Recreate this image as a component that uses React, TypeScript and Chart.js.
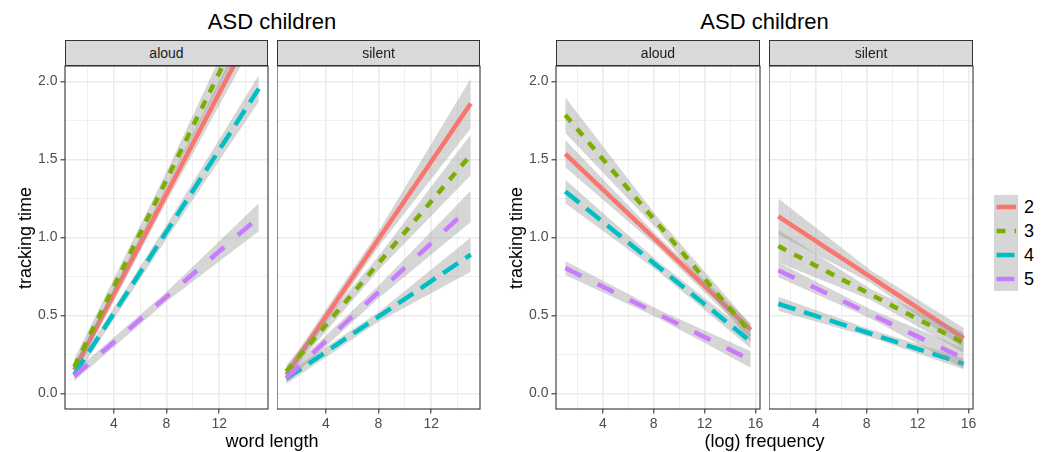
import React, { useEffect, useRef } from "react";
import { Chart, registerables } from "chart.js";

Chart.register(...registerables);

const FONT = "'Liberation Sans', Arial, Helvetica, sans-serif";
const RIBBON = "rgba(153,153,153,0.4)";

// ---- legend groups ----
const groups = ["2", "3", "4", "5"];
const groupColors = ["#F8766D", "#7CAE00", "#00BFC4", "#C77CFF"];
const groupDashes: number[][] = [[], [9, 9], [18, 9], [18, 18]];

// ---- axis ticks ----
const yTicks = [0, 0.25, 0.5, 0.75, 1, 1.25, 1.5, 1.75, 2];
const yLabelled = [0, 0.5, 1, 1.5, 2];
const wordTicks = [2, 4, 6, 8, 10, 12, 14];
const wordLabelled = [4, 8, 12];
const freqTicks = [2, 4, 6, 8, 10, 12, 14, 16];
const freqLabelled = [4, 8, 12, 16];

// ---- x positions of fitted lines and bands ----
const wordLineX = [1, 15];
const wordBandX = [1, 8, 15];
const freqLineX = [1.04, 15.63];
const freqBandX = [1.04, 8.3, 15.63];

// ---- word length, aloud (groups 2,3,4,5) ----
const wordAloudFit = [[0.15, 2.41], [0.17, 2.57], [0.12, 1.955], [0.11, 1.13]];
const wordAloudLower = [[0.11, 1.23, 2.31], [0.12, 1.32, 2.45], [0.09, 0.99, 1.87], [0.08, 0.59, 1.04]];
const wordAloudUpper = [[0.19, 1.33, 2.51], [0.22, 1.42, 2.69], [0.15, 1.08, 2.04], [0.14, 0.65, 1.22]];

// ---- word length, silent ----
const wordSilentFit = [[0.12, 1.86], [0.14, 1.53], [0.095, 0.89], [0.1, 1.2]];
const wordSilentLower = [[0.08, 0.94, 1.7], [0.1, 0.79, 1.4], [0.06, 0.46, 0.78], [0.07, 0.61, 1.1]];
const wordSilentUpper = [[0.16, 1.04, 2.02], [0.18, 0.88, 1.66], [0.13, 0.52, 1.0], [0.13, 0.69, 1.3]];

// ---- (log) frequency, aloud ----
const freqAloudFit = [[1.537, 0.408], [1.786, 0.387], [1.295, 0.333], [0.804, 0.215]];
const freqAloudLower = [[1.45, 0.94, 0.36], [1.67, 1.05, 0.33], [1.22, 0.785, 0.29], [0.76, 0.485, 0.165]];
const freqAloudUpper = [[1.625, 1.01, 0.45], [1.9, 1.13, 0.44], [1.37, 0.85, 0.38], [0.85, 0.54, 0.27]];

// ---- (log) frequency, silent ----
const freqSilentFit = [[1.135, 0.355], [0.945, 0.323], [0.575, 0.19], [0.79, 0.224]];
const freqSilentLower = [[1.02, 0.71, 0.29], [0.84, 0.6, 0.26], [0.53, 0.36, 0.155], [0.745, 0.48, 0.16]];
const freqSilentUpper = [[1.25, 0.79, 0.42], [1.05, 0.67, 0.39], [0.62, 0.41, 0.225], [0.84, 0.54, 0.29]];

const TOP = 54;
const PAD_TOP = 12;
const AREA_BOTTOM = 409;
const CANVAS_H = 398;
const PAD_R = 14;

const panelBorder = {
  id: "panelBorder",
  afterDraw(chart: any) {
    const { ctx, chartArea: a } = chart;
    ctx.save();
    ctx.strokeStyle = "#333333";
    ctx.lineWidth = 1.1;
    ctx.strokeRect(a.left, a.top, a.right - a.left, a.bottom - a.top);
    ctx.restore();
  },
};

type PanelProps = {
  canvasLeft: number;
  areaLeft: number;
  areaRight: number;
  showY: boolean;
  xMin: number;
  xMax: number;
  xTickValues: number[];
  xLabelled: number[];
  lineX: number[];
  bandX: number[];
  fit: number[][];
  lower: number[][];
  upper: number[][];
};

function Panel(p: PanelProps) {
  const ref = useRef<HTMLCanvasElement>(null);
  useEffect(() => {
    const yw = p.areaLeft - p.canvasLeft;
    const xh = CANVAS_H - (AREA_BOTTOM - TOP);
    const datasets: any[] = [];
    let order = 100;
    groups.forEach((g, i) => {
      datasets.push({
        label: "upper " + g,
        data: p.bandX.map((x, k) => ({ x, y: p.upper[i][k] })),
        borderColor: "transparent",
        borderWidth: 0,
        backgroundColor: RIBBON,
        pointRadius: 0,
        fill: "+1",
        order: order--,
        clip: 0,
      });
      datasets.push({
        label: "lower " + g,
        data: p.bandX.map((x, k) => ({ x, y: p.lower[i][k] })),
        borderColor: "transparent",
        borderWidth: 0,
        pointRadius: 0,
        fill: false,
        order: order--,
        clip: 0,
      });
      datasets.push({
        label: g,
        data: p.lineX.map((x, k) => ({ x, y: p.fit[i][k] })),
        borderColor: groupColors[i],
        borderWidth: 4.5,
        borderDash: groupDashes[i],
        borderCapStyle: "butt",
        pointRadius: 0,
        fill: false,
        order: order--,
        clip: 0,
      });
    });

    const isIn = (arr: number[], v: any) => arr.some((a) => Math.abs(a - v) < 1e-9);

    const chart = new Chart(ref.current as HTMLCanvasElement, {
      type: "line",
      data: { datasets },
      plugins: [panelBorder],
      options: {
        responsive: false,
        animation: false,
        events: [],
        layout: { padding: { top: PAD_TOP, right: PAD_R, left: 0, bottom: 0 } },
        plugins: {
          legend: { display: false },
          tooltip: { enabled: false },
        },
        scales: {
          x: {
            type: "linear",
            min: p.xMin,
            max: p.xMax,
            afterBuildTicks: (s: any) => {
              s.ticks = p.xTickValues.map((v) => ({ value: v }));
            },
            afterFit: (s: any) => {
              s.height = xh;
            },
            border: { display: false },
            grid: {
              color: "#EBEBEB",
              lineWidth: (c: any) => (c.tick && isIn(p.xLabelled, c.tick.value) ? 1.6 : 0.8),
              drawTicks: true,
              tickLength: 4.5,
              tickWidth: 1.1,
              tickColor: (c: any) => (c.tick && isIn(p.xLabelled, c.tick.value) ? "#333333" : "rgba(0,0,0,0)"),
            },
            ticks: {
              autoSkip: false,
              maxRotation: 0,
              padding: 2,
              color: "#4D4D4D",
              font: { size: 14, family: FONT },
              callback: (v: any) => (isIn(p.xLabelled, v) ? String(v) : ""),
            },
          },
          y: {
            type: "linear",
            min: -0.1,
            max: 2.1,
            afterBuildTicks: (s: any) => {
              s.ticks = yTicks.map((v) => ({ value: v }));
            },
            afterFit: (s: any) => {
              s.width = yw;
            },
            border: { display: false },
            grid: {
              color: "#EBEBEB",
              lineWidth: (c: any) => (c.tick && isIn(yLabelled, c.tick.value) ? 1.6 : 0.8),
              drawTicks: p.showY,
              tickLength: 4.5,
              tickWidth: 1.1,
              tickColor: (c: any) => (c.tick && isIn(yLabelled, c.tick.value) ? "#333333" : "rgba(0,0,0,0)"),
            },
            ticks: {
              display: p.showY,
              autoSkip: false,
              padding: 3,
              color: "#4D4D4D",
              font: { size: 14, family: FONT },
              callback: (v: any) => (isIn(yLabelled, v) ? Number(v).toFixed(1) : ""),
            },
          },
        },
      } as any,
    });
    return () => chart.destroy();
  }, []);
  return (
    <canvas
      ref={ref}
      width={p.areaRight + PAD_R - p.canvasLeft}
      height={CANVAS_H}
      style={{ position: "absolute", left: p.canvasLeft, top: TOP }}
    />
  );
}

function Text(props: { x: number; y: number; size: number; color?: string; rotate?: boolean; children: any }) {
  return (
    <div
      style={{
        position: "absolute",
        left: props.x,
        top: props.y,
        transform: "translate(-50%,-50%)" + (props.rotate ? " rotate(-90deg)" : ""),
        fontFamily: FONT,
        fontSize: props.size,
        color: props.color || "#000000",
        lineHeight: 1,
        whiteSpace: "nowrap",
      }}
    >
      {props.children}
    </div>
  );
}

function Strip(props: { left: number; right: number; label: string }) {
  return (
    <div
      style={{
        position: "absolute",
        left: props.left,
        top: 40,
        width: props.right - props.left,
        height: 26,
        boxSizing: "border-box",
        background: "#D9D9D9",
        border: "1.1px solid #333333",
        fontFamily: FONT,
        fontSize: 14,
        color: "#1A1A1A",
        display: "flex",
        alignItems: "center",
        justifyContent: "center",
      }}
    >
      {props.label}
    </div>
  );
}

function Legend() {
  const top = 195;
  const keyH = 24;
  return (
    <>
      <svg
        width={24}
        height={keyH * groups.length}
        style={{ position: "absolute", left: 994, top }}
      >
        {groups.map((g, i) => (
          <g key={g}>
            <rect x={0} y={i * keyH} width={24} height={keyH} fill={RIBBON} />
            <line
              x1={2.5}
              x2={22}
              y1={i * keyH + keyH / 2}
              y2={i * keyH + keyH / 2}
              stroke={groupColors[i]}
              strokeWidth={4.5}
              strokeDasharray={groupDashes[i].length ? groupDashes[i].join(" ") : undefined}
            />
          </g>
        ))}
      </svg>
      {groups.map((g, i) => (
        <div
          key={g}
          style={{
            position: "absolute",
            left: 1024,
            top: top + i * keyH + keyH / 2,
            transform: "translateY(-50%)",
            fontFamily: FONT,
            fontSize: 18,
            lineHeight: 1,
            color: "#000000",
          }}
        >
          {g}
        </div>
      ))}
    </>
  );
}

export default function App() {
  return (
    <div
      style={{
        position: "fixed",
        left: 0,
        top: 0,
        width: 1051,
        height: 452,
        background: "#FFFFFF",
        overflow: "hidden",
      }}
    >
      <Panel
        canvasLeft={0}
        areaLeft={65}
        areaRight={268}
        showY={true}
        xMin={0.3}
        xMax={15.7}
        xTickValues={wordTicks}
        xLabelled={wordLabelled}
        lineX={wordLineX}
        bandX={wordBandX}
        fit={wordAloudFit}
        lower={wordAloudLower}
        upper={wordAloudUpper}
      />
      <Panel
        canvasLeft={277}
        areaLeft={277}
        areaRight={480}
        showY={false}
        xMin={0.3}
        xMax={15.7}
        xTickValues={wordTicks}
        xLabelled={wordLabelled}
        lineX={wordLineX}
        bandX={wordBandX}
        fit={wordSilentFit}
        lower={wordSilentLower}
        upper={wordSilentUpper}
      />
      <Panel
        canvasLeft={490}
        areaLeft={556}
        areaRight={760}
        showY={true}
        xMin={0.31}
        xMax={16.36}
        xTickValues={freqTicks}
        xLabelled={freqLabelled}
        lineX={freqLineX}
        bandX={freqBandX}
        fit={freqAloudFit}
        lower={freqAloudLower}
        upper={freqAloudUpper}
      />
      <Panel
        canvasLeft={769}
        areaLeft={769}
        areaRight={973}
        showY={false}
        xMin={0.31}
        xMax={16.36}
        xTickValues={freqTicks}
        xLabelled={freqLabelled}
        lineX={freqLineX}
        bandX={freqBandX}
        fit={freqSilentFit}
        lower={freqSilentLower}
        upper={freqSilentUpper}
      />

      <Strip left={65} right={268} label="aloud" />
      <Strip left={277} right={480} label="silent" />
      <Strip left={556} right={760} label="aloud" />
      <Strip left={769} right={973} label="silent" />

      <Text x={272} y={22} size={22}>ASD children</Text>
      <Text x={764.5} y={22} size={22}>ASD children</Text>

      <Text x={272} y={441} size={18}>word length</Text>
      <Text x={764.5} y={441} size={18}>(log) frequency</Text>

      <Text x={25} y={237.5} size={18} rotate>tracking time</Text>
      <Text x={516} y={237.5} size={18} rotate>tracking time</Text>

      <Legend />
    </div>
  );
}
